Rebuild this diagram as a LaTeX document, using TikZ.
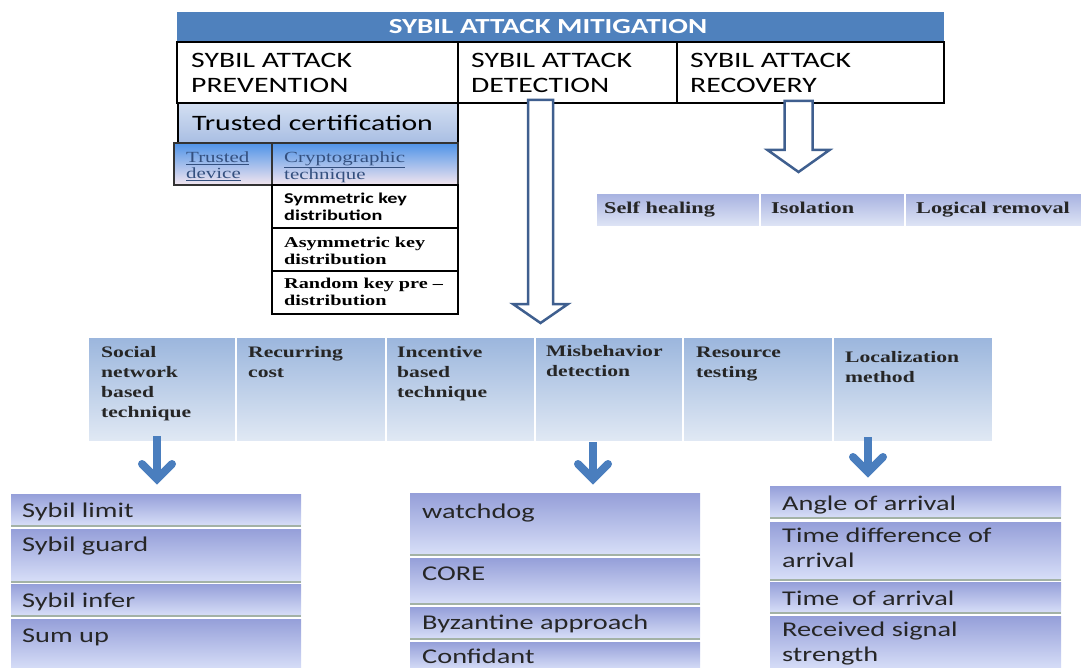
\documentclass[tikz,border=0pt]{standalone}
\usepackage{fontspec}
\usetikzlibrary{calc}
\newfontfamily\calf[FakeStretch=1.35]{Carlito}
\newfontfamily\timf[FakeStretch=1.35]{Liberation Serif}
\definecolor{titleblue}{HTML}{4F81BD}
\definecolor{arrline}{HTML}{3F5F8F}
\definecolor{sblue}{HTML}{4A7EBE}
\definecolor{certT}{HTML}{D3DFF2}
\definecolor{certB}{HTML}{A9BEE3}
\definecolor{tdT}{HTML}{4F93E8}
\definecolor{tdM}{HTML}{C9DCF4}
\definecolor{tdB}{HTML}{F3E6EF}
\definecolor{tdtext}{HTML}{34507F}
\definecolor{detT}{HTML}{9BB6DD}
\definecolor{detB}{HTML}{E1E9F4}
\definecolor{recT}{HTML}{A6B1E0}
\definecolor{recB}{HTML}{E0E6F6}
\definecolor{lavT}{HTML}{959FD9}
\definecolor{lavB}{HTML}{D8DFF8}
\definecolor{lgrn}{HTML}{A3B2A6}
\newcommand\mkbox[6]{\node[#2, anchor=north west, inner sep=0pt, outer sep=0pt, minimum width={(#5)-(#3)}, minimum height={(#6)-(#4)}] (#1) at (#3,#4) {};}
\newcommand\mktext[6]{\node[#2, anchor=north west, inner sep=0pt, align=left] (#1) at (#3,{#4-#5}) {\rule{0pt}{#5pt}#6};}
\tikzset{
  x=1pt, y=-1pt,
  titlebar/.style={fill=titleblue},
  wbox/.style={draw=black, line width=1.2pt, fill=white},
  certbox/.style={draw=black, line width=1.2pt, top color=certT, bottom color=certB},
  tdbox/.style={draw=black!80, line width=1.2pt, top color=tdT, middle color=tdM, bottom color=tdB},
  detcell/.style={draw=white, line width=1.5pt, top color=detT, bottom color=detB},
  reccell/.style={draw=white, line width=1.5pt, top color=recT, bottom color=recB},
  lstbox/.style={top color=lavT, middle color=lavB, bottom color=lavB,
     path picture={\draw[line width=2.5pt, color=lgrn] (path picture bounding box.south west) -- (path picture bounding box.south east);}},
  fTitle/.style={font=\calf\bfseries\fontsize{21.5}{25}\selectfont, text=white},
  fHead/.style={font=\calf\fontsize{22}{25}\selectfont},
  fList/.style={font=\calf\fontsize{21}{25}\selectfont, text=black!85},
  fTB/.style={font=\timf\bfseries\fontsize{16}{20}\selectfont, text=black!85},
  fTBr/.style={font=\timf\bfseries\fontsize{16.5}{20}\selectfont, text=black!85},
  fTd/.style={font=\timf\fontsize{15.5}{16}\selectfont, text=tdtext},
  fCB/.style={font=\calf\bfseries\fontsize{15}{17}\selectfont},
  fTB15/.style={font=\timf\bfseries\fontsize{15}{17}\selectfont},
  hollow/.style={draw=arrline, line width=2.5pt, fill=white, line join=miter},
  sarr/.style={draw=sblue, line width=8pt},
  sarrhead/.style={draw=sblue, line width=8pt, line cap=round, line join=miter},
}
\begin{document}
\begin{tikzpicture}
\useasboundingbox (0,0) rectangle (1081,668);
\begin{scope}
\clip (0,0) rectangle (1081,668);
% title and top row
\mkbox{title}{titlebar}{177}{12}{944}{42}
\node[fTitle, anchor=base] (title-t) at (548,34) {SYBIL ATTACK MITIGATION};
\mkbox{prev}{wbox}{177}{42}{458}{103}
\mkbox{det}{wbox}{458}{42}{677}{103}
\mkbox{rec}{wbox}{677}{42}{944}{103}
\mktext{prev-t}{fHead}{191}{67}{22}{SYBIL ATTACK\\PREVENTION}
\mktext{det-t}{fHead}{471}{67}{22}{SYBIL ATTACK\\DETECTION}
\mktext{rec-t}{fHead}{690}{67}{22}{SYBIL ATTACK\\RECOVERY}
% prevention branch
\mkbox{cert}{certbox}{178}{103}{458}{143}
\mktext{cert-t}{fHead}{192}{130}{22}{Trusted certification}
\mkbox{tdev}{tdbox}{174}{143}{272}{185}
\mkbox{crypt}{tdbox}{272}{143}{458}{185}
\mktext{tdev-t}{fTd}{186}{162}{15.5}{\underline{Trusted}\\\underline{device}}
\mktext{crypt-t}{fTd}{284}{162}{15.5}{\underline{Cryptographic}\\\underline{technique}}
\mkbox{sym}{wbox}{272}{185}{458}{228}
\mkbox{asym}{wbox}{272}{228}{458}{271}
\mkbox{rand}{wbox}{272}{271}{458}{314}
\mktext{sym-t}{fCB}{284}{203}{15}{Symmetric key\\distribution}
\mktext{asym-t}{fTB15}{284}{247}{15}{Asymmetric key\\distribution}
\mktext{rand-t}{fTB15}{284}{288}{15}{Random key pre \textendash\\distribution}
% recovery row
\mkbox{heal}{reccell}{596}{193}{760}{227}
\mkbox{iso}{reccell}{760}{193}{905}{227}
\mkbox{logr}{reccell}{905}{193}{1082}{227}
\mktext{heal-t}{fTBr}{604}{213}{16.5}{Self healing}
\mktext{iso-t}{fTBr}{771}{213}{16.5}{Isolation}
\mktext{logr-t}{fTBr}{916}{213}{16.5}{Logical removal}
% detection row
\mkbox{soc}{detcell}{88}{337}{236}{442}
\mkbox{recur}{detcell}{236}{337}{386}{442}
\mkbox{inc}{detcell}{386}{337}{535}{442}
\mkbox{mis}{detcell}{535}{337}{683}{442}
\mkbox{res}{detcell}{683}{337}{833}{442}
\mkbox{loc}{detcell}{833}{337}{993}{442}
\mktext{soc-t}{fTB}{101}{357}{16}{Social\\network\\based\\technique}
\mktext{recur-t}{fTB}{248}{357}{16}{Recurring\\cost}
\mktext{inc-t}{fTB}{397}{357}{16}{Incentive\\based\\technique}
\mktext{mis-t}{fTB}{546}{356}{16}{Misbehavior\\detection}
\mktext{res-t}{fTB}{696}{357}{16}{Resource\\testing}
\mktext{loc-t}{fTB}{845}{362}{16}{Localization\\method}
% left list
\mkbox{slim}{lstbox}{11}{494}{301}{526}
\mkbox{sgua}{lstbox}{11}{529}{301}{582}
\mkbox{sinf}{lstbox}{11}{584}{301}{616}
\mkbox{sumu}{lstbox}{11}{619}{301}{670}
\mktext{slim-t}{fList}{22}{517}{21}{Sybil limit}
\mktext{sgua-t}{fList}{22}{551}{21}{Sybil guard}
\mktext{sinf-t}{fList}{22}{607}{21}{Sybil infer}
\mktext{sumu-t}{fList}{22}{642}{21}{Sum up}
% middle list
\mkbox{wdog}{lstbox}{410}{493}{700}{555}
\mkbox{core}{lstbox}{410}{558}{700}{604}
\mkbox{byz}{lstbox}{410}{607}{700}{639}
\mkbox{conf}{lstbox}{410}{642}{700}{670}
\mktext{wdog-t}{fList}{422}{518}{21}{watchdog}
\mktext{core-t}{fList}{422}{580}{21}{CORE}
\mktext{byz-t}{fList}{422}{629}{21}{Byzantine approach}
\mktext{conf-t}{fList}{422}{663}{21}{Confidant}
% right list
\mkbox{aoa}{lstbox}{770}{486}{1061}{518}
\mkbox{tdoa}{lstbox}{770}{522}{1061}{580}
\mkbox{toa}{lstbox}{770}{582}{1061}{613}
\mkbox{rss}{lstbox}{770}{616}{1061}{670}
\mktext{aoa-t}{fList}{782}{510}{21}{Angle of arrival}
\mktext{tdoa-t}{fList}{782}{542}{21}{Time difference of\\arrival}
\mktext{toa-t}{fList}{782}{605}{21}{Time~ of arrival}
\mktext{rss-t}{fList}{782}{636}{21}{Received signal\\strength}
% hollow arrows
\coordinate (dTop) at (540.5,100);
\coordinate (dTip) at (540.5,323);
\draw[hollow] ($(dTop)+(-12.5,0)$) -- ($(dTip)+(-12.5,-19)$) -- ($(dTip)+(-27.5,-19)$) -- (dTip) -- ($(dTip)+(27.5,-19)$) -- ($(dTip)+(12.5,-19)$) -- ($(dTop)+(12.5,0)$) -- cycle;
\coordinate (rTop) at (798.5,101);
\coordinate (rTip) at (798.5,172);
\draw[hollow] ($(rTop)+(-14,0)$) -- ($(rTip)+(-14,-22)$) -- ($(rTip)+(-31,-22)$) -- (rTip) -- ($(rTip)+(31,-22)$) -- ($(rTip)+(14,-22)$) -- ($(rTop)+(14,0)$) -- cycle;
% small arrows
\coordinate (a1s) at (157,436); \coordinate (a1e) at (157,479);
\coordinate (a2s) at (593,442); \coordinate (a2e) at (593,479);
\coordinate (a3s) at (868,437); \coordinate (a3e) at (868,472);
\foreach \s/\e in {a1s/a1e,a2s/a2e,a3s/a3e}{
  \draw[sarr] (\s) -- ($(\e)+(0,-5)$);
  \draw[sarrhead] ($(\e)+(-15,-15)$) -- (\e) -- ($(\e)+(15,-15)$);
}
\end{scope}
\end{tikzpicture}
\end{document}
